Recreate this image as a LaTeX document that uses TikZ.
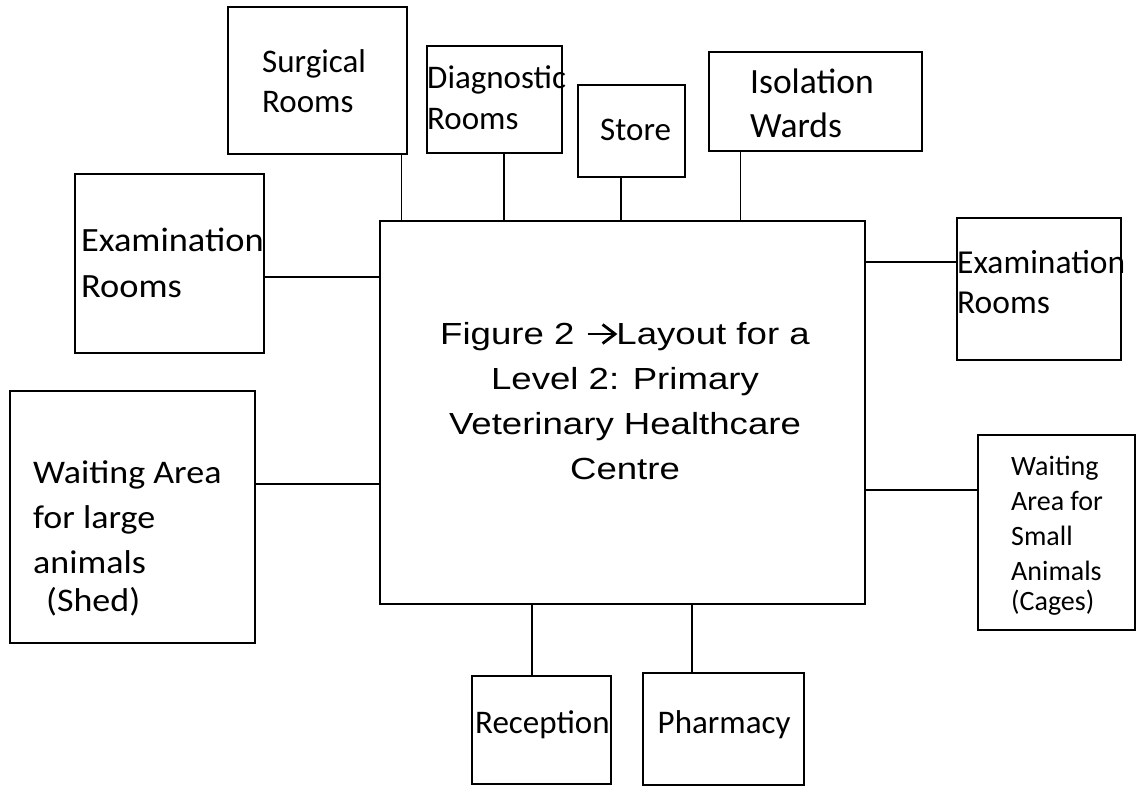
\documentclass[tikz,border=0pt]{standalone}
\usepackage{fontspec}
\setmainfont{Carlito}
\newfontfamily\lblwide[FakeStretch=1.09]{Carlito}
\newfontfamily\lblmid[FakeStretch=1.07]{Carlito}
\newfontfamily\titlefont[FakeStretch=1.2]{Liberation Sans}
% stacked lines whose reference point is the first baseline
\newcommand\stack[2][l]{\begin{tabular}[t]{@{}#1@{}}#2\end{tabular}}
\newcommand\fs[2]{\fontsize{#1pt}{#2pt}\selectfont}
% heavy right arrow set inline in the title
\newcommand\bigarrow{\hspace{1.5pt}\tikz[baseline=0pt, x=1pt, y=1pt]{%
  \draw[line width=2.8pt] (0,10) -- (27,10);%
  \draw[line width=2.8pt, line join=miter] (15,19.5) -- (27.5,10) -- (15,0.5);}}

\tikzset{
  room/.style={draw=black, line width=1.3pt, inner sep=0pt, rectangle},
  link/.style={draw=black, line width=1.1pt},
  lbl/.style={inner sep=0pt, anchor=base west, text=black},
}

\begin{document}
\begin{tikzpicture}[x=1pt, y=-1pt]
\useasboundingbox (0,0) rectangle (1137,787);

% rooms
\node[room, minimum width=485pt, minimum height=383pt] (main)  at (622.5,412.5) {};
\node[room, minimum width=179pt, minimum height=147pt] (surg)  at (317.5,80.5) {};
\node[room, minimum width=135pt, minimum height=107pt] (diag)  at (494.5,99.5) {};
\node[room, minimum width=107pt, minimum height=92pt]  (store) at (631.5,131) {};
\node[room, minimum width=213pt, minimum height=99pt]  (iso)   at (815.5,101.5) {};
\node[room, minimum width=189pt, minimum height=179pt] (exL)   at (169.5,263.5) {};
\node[room, minimum width=164pt, minimum height=142pt] (exR)   at (1039,289) {};
\node[room, minimum width=245pt, minimum height=252pt] (wL)    at (132.5,517) {};
\node[room, minimum width=157pt, minimum height=195pt] (wS)    at (1056.5,532.5) {};
\node[room, minimum width=139pt, minimum height=108pt] (rec)   at (541.5,730) {};
\node[room, minimum width=161pt, minimum height=112pt] (pha)   at (723.5,729) {};

% labels
\node[lbl, font=\fs{33}{40}] (surgT) at (262,72) {\stack{Surgical\\Rooms}};
\node[lbl, font=\fs{33}{41}] (diagT) at (427,88) {\stack{Diagnostic\\Rooms}};
\node[lbl, font=\fs{33}{40}] (storeT) at (600,140) {Store};
\node[lbl, font=\fs{35.5}{44}] (isoT) at (750,93) {\stack{Isolation\\Wards}};
\node[lbl, font=\lblmid\fs{34}{46}] (exLT) at (81,251) {\stack{Examination\\Rooms}};
\node[lbl, font=\fs{33.5}{40}] (exRT) at (957,273) {\stack{Examination\\Rooms}};
\node[lbl, font=\lblwide\fs{33}{45}] (wLT) at (33,483)
  {\stack{Waiting Area\\for large\\animals\\[-7pt]\hspace*{13pt}(Shed)}};
\node[lbl, font=\fs{28}{35}] (wST) at (1011,475)
  {\stack{Waiting\\Area for\\Small\\Animals\\[-5pt](Cages)}};
\node[lbl, font=\fs{33}{40}] (recT) at (475,733) {Reception};
\node[lbl, font=\fs{33}{40}] (phaT) at (657.5,733) {Pharmacy};

\node[inner sep=0pt, anchor=base, font=\titlefont\fs{30.5}{45.3}] (title) at (625,344)
  {\stack[c]{Figure 2 \bigarrow Layout for a\\Level 2: Primary\\Veterinary Healthcare\\Centre}};

% connectors to the central block
\draw[link] ([xshift=-6pt]surg.south east) -- ([xshift=-6pt]surg.south east |- main.north);
\draw[link] ([xshift=9.5pt]diag.south) -- ([xshift=9.5pt]diag.south |- main.north);
\draw[link] ([xshift=-10.5pt]store.south) -- ([xshift=-10.5pt]store.south |- main.north);
\draw[link] ([xshift=32.5pt]iso.south west) -- ([xshift=32.5pt]iso.south west |- main.north);
\draw[link] ([yshift=-13.5pt]exL.east) -- ([yshift=-13.5pt]exL.east -| main.west);
\draw[link] ([yshift=33pt]wL.east) -- ([yshift=33pt]wL.east -| main.west);
\draw[link] ([yshift=27pt]exR.west) -- ([yshift=27pt]exR.west -| main.east);
\draw[link] ([yshift=42.5pt]wS.west) -- ([yshift=42.5pt]wS.west -| main.east);
\draw[link] ([xshift=-9.5pt]rec.north) -- ([xshift=-9.5pt]rec.north |- main.south);
\draw[link] ([xshift=-31.5pt]pha.north) -- ([xshift=-31.5pt]pha.north |- main.south);
\end{tikzpicture}
\end{document}
